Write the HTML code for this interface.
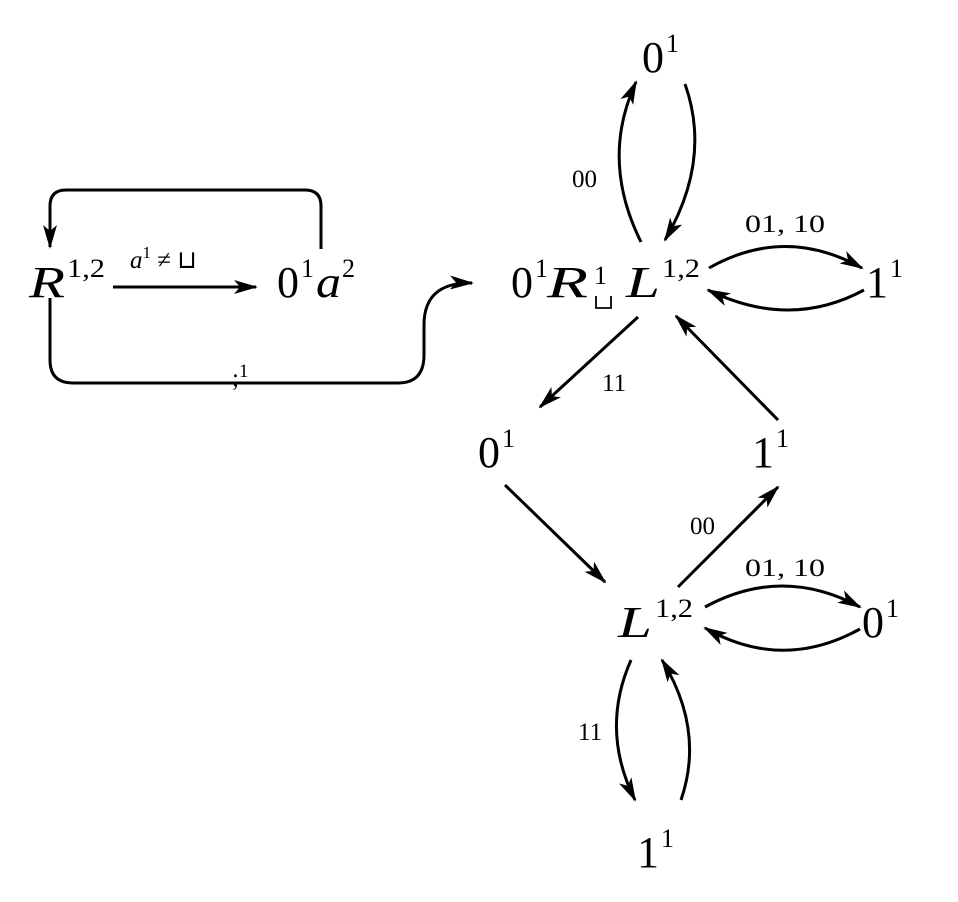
<!DOCTYPE html>
<html><head><meta charset="utf-8"><style>
body{margin:0;background:#fff}
svg{display:block}
text{font-family:"Liberation Serif",serif;fill:#000}
.n{font-size:44px}
.s{font-size:26px}
.l{font-size:25px}
.i{font-style:italic}
path{fill:none;stroke:#000;stroke-width:3}
</style></head><body>
<svg width="958" height="902" viewBox="0 0 958 902">
<defs><marker id="a" markerWidth="24" markerHeight="14" refX="22" refY="7" orient="auto" markerUnits="userSpaceOnUse"><path d="M0,0 L24,7 L0,14 L6,7 Z" style="fill:#000;stroke:none"/></marker></defs>

<!-- nodes -->
<text x="29" y="297" class="n i" textLength="36" lengthAdjust="spacingAndGlyphs">R</text><text x="67" y="277" class="s" textLength="38" lengthAdjust="spacingAndGlyphs">1,2</text>
<text x="277" y="297" class="n">0</text><text x="301" y="277" class="s">1</text><text x="316" y="297" class="n i" textLength="25" lengthAdjust="spacingAndGlyphs">a</text><text x="342" y="277" class="s">2</text>

<text x="511" y="297" class="n">0</text><text x="535" y="277" class="s">1</text><text x="547" y="297" class="n i" textLength="41" lengthAdjust="spacingAndGlyphs">R</text>
<text x="594" y="284" class="s">1</text>
<path d="M596,296 V308 H611 V296" style="stroke-width:1.8"/>
<text x="626" y="297" class="n i" textLength="34" lengthAdjust="spacingAndGlyphs">L</text><text x="662" y="277" class="s" textLength="38" lengthAdjust="spacingAndGlyphs">1,2</text>

<text x="866" y="297" class="n">1</text><text x="890" y="277" class="s">1</text>
<text x="642" y="72" class="n">0</text><text x="666" y="52" class="s">1</text>
<text x="478" y="467" class="n">0</text><text x="502" y="447" class="s">1</text>
<text x="752" y="467" class="n">1</text><text x="776" y="447" class="s">1</text>
<text x="618" y="637" class="n i" textLength="34" lengthAdjust="spacingAndGlyphs">L</text><text x="655" y="617" class="s" textLength="38" lengthAdjust="spacingAndGlyphs">1,2</text>
<text x="862" y="637" class="n">0</text><text x="886" y="617" class="s">1</text>
<text x="637" y="867" class="n">1</text><text x="661" y="847" class="s">1</text>

<!-- labels -->
<text x="130" y="268" class="l"><tspan class="i">a</tspan><tspan font-size="17" dy="-10">1</tspan><tspan dy="10"> ≠ ⊔</tspan></text>
<text x="232" y="386" class="l">;<tspan font-size="19" dy="-9">1</tspan></text>
<text x="572" y="187" class="l">00</text>
<text x="745" y="232" class="l" textLength="80" lengthAdjust="spacingAndGlyphs">01, 10</text>
<text x="602" y="391" class="l">11</text>
<text x="690" y="534" class="l">00</text>
<text x="745" y="576" class="l" textLength="80" lengthAdjust="spacingAndGlyphs">01, 10</text>
<text x="578" y="740" class="l">11</text>

<!-- edges -->
<path d="M321,249 V206 Q321,190 305,190 H66 Q50,190 50,206 V247" marker-end="url(#a)"/>
<path d="M113,287 H256" marker-end="url(#a)"/>
<path d="M50,298 V360 Q50,383 73,383 H398 Q424,383 424,355 V325 Q424,282 472,283" marker-end="url(#a)"/>
<path d="M641,242 Q600,160 636,82" marker-end="url(#a)"/>
<path d="M685,84 Q712,160 665,240" marker-end="url(#a)"/>
<path d="M709,268 Q785,225 862,268" marker-end="url(#a)"/>
<path d="M864,290 Q790,330 708,290" marker-end="url(#a)"/>
<path d="M638,317 L540,407" marker-end="url(#a)"/>
<path d="M778,420 L676,316" marker-end="url(#a)"/>
<path d="M505,485 L605,582" marker-end="url(#a)"/>
<path d="M678,587 L778,487" marker-end="url(#a)"/>
<path d="M705,607 Q782,565 860,607" marker-end="url(#a)"/>
<path d="M860,629 Q782,672 705,628" marker-end="url(#a)"/>
<path d="M631,660 Q600,730 635,800" marker-end="url(#a)"/>
<path d="M681,800 Q705,730 662,660" marker-end="url(#a)"/>
</svg>
</body></html>
